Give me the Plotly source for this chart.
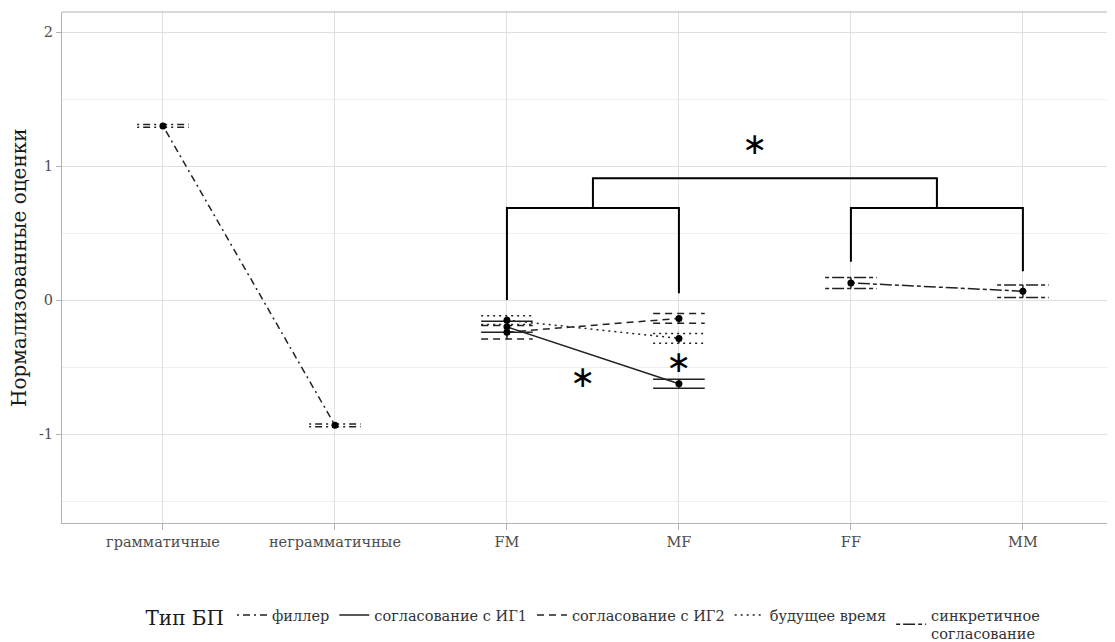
import plotly.graph_objects as go

# ---------------- data ----------------
categories = ["грамматичные", "неграмматичные", "FM", "MF", "FF", "MM"]

series_names = ["филлер", "согласование с ИГ1", "согласование с ИГ2",
                "будущее время", "синкретичное<br>согласование"]
series_x = [["грамматичные", "неграмматичные"], ["FM", "MF"], ["FM", "MF"],
            ["FM", "MF"], ["FF", "MM"]]
series_y = [[1.30, -0.935], [-0.20, -0.625], [-0.24, -0.137],
            [-0.15, -0.286], [0.128, 0.066]]
series_err = [[0.01, 0.01], [0.041, 0.034], [0.05, 0.037],
              [0.032, 0.037], [0.041, 0.046]]

# significance brackets: (left category, right category, left leg bottom, right leg bottom)
bracket_pairs = [("FM", "MF", 0.0, 0.05), ("FF", "MM", 0.285, 0.215)]
bracket_level = 0.687
top_bracket_level = 0.91
star_x = [3.44, 2.44, 3.0]
star_y = [1.17, -0.567, -0.455]

y_ticks = [-1, 0, 1, 2]
y_tick_labels = ["-1", "0", "1", "2"]

# ---------------- styling ----------------
dashes = ["2px,4px,7px,4px", "solid", "7px,5px", "2px,4px", "4px,3px,12px,3px"]
cap_half = 0.15
FONT = "DejaVu Serif"
pos = {c: i for i, c in enumerate(categories)}

fig = go.Figure()

# brackets
bx, by = [], []
mids = []
for a, b, la, lb in bracket_pairs:
    xa, xb = pos[a], pos[b]
    bx += [xa, xa, xb, xb, None]
    by += [la, bracket_level, bracket_level, lb, None]
    mids.append((xa + xb) / 2)
bx += [mids[0], mids[0], mids[1], mids[1], None]
by += [bracket_level, top_bracket_level, top_bracket_level, bracket_level, None]
fig.add_trace(go.Scatter(x=bx, y=by, mode="lines", line=dict(color="black", width=2),
                         showlegend=False, hoverinfo="skip"))

# error bar caps (drawn in series linetype)
for name, xs, ys, es, d in zip(series_names, series_x, series_y, series_err, dashes):
    cx, cy = [], []
    for xc, yv, e in zip(xs, ys, es):
        xi = pos[xc]
        cx += [xi - cap_half, xi + cap_half, None, xi - cap_half, xi + cap_half, None, xi, xi, None]
        cy += [yv + e, yv + e, None, yv - e, yv - e, None, yv - e, yv + e, None]
    fig.add_trace(go.Scatter(x=cx, y=cy, mode="lines",
                             line=dict(color="#222222", width=1.5, dash=d),
                             showlegend=False, legendgroup=name, hoverinfo="skip"))

# series lines (legend entries)
for name, xs, ys, d in zip(series_names, series_x, series_y, dashes):
    fig.add_trace(go.Scatter(x=[pos[c] for c in xs], y=ys, mode="lines",
                             name=name, legendgroup=name,
                             line=dict(color="#222222", width=1.5, dash=d)))
# points
for name, xs, ys in zip(series_names, series_x, series_y):
    fig.add_trace(go.Scatter(x=[pos[c] for c in xs], y=ys, mode="markers",
                             legendgroup=name, showlegend=False,
                             marker=dict(color="black", size=7)))

# asterisks
for sx, sy in zip(star_x, star_y):
    fig.add_annotation(x=sx, y=sy, text="∗", showarrow=False,
                       font=dict(family="DejaVu Sans", size=30, color="black"))

# y-axis title
fig.add_annotation(xref="paper", yref="paper", x=-0.041, y=0.5, text="Нормализованные оценки",
                   textangle=-90, showarrow=False, xanchor="center", yanchor="middle",
                   font=dict(family=FONT, size=20, color="#1a1a1a"))

# top border of panel
fig.add_shape(type="line", xref="paper", yref="paper", x0=0, x1=1, y0=1, y1=1,
              line=dict(color="#B3B3B3", width=1))

fig.update_layout(
    width=1115, height=642,
    margin=dict(l=54, r=0, t=4, b=127, autoexpand=False),
    plot_bgcolor="white", paper_bgcolor="white",
    font=dict(family=FONT, size=14, color="#4d4d4d"),
    xaxis=dict(range=[-0.587, 5.582], tickmode="array", tickvals=list(range(len(categories))),
               ticktext=categories, showgrid=True, gridcolor="#E0E0E0", gridwidth=1,
               zeroline=False, showline=True, linecolor="#B3B3B3", linewidth=1,
               ticks="outside", ticklen=6, tickcolor="#B3B3B3", automargin=False,
               tickfont=dict(family=FONT, size=14.5, color="#4d4d4d")),
    yaxis=dict(range=[-1.664, 2.15], tickmode="array", tickvals=y_ticks, ticktext=y_tick_labels,
               showgrid=True, gridcolor="#E0E0E0", gridwidth=1,
               minor=dict(dtick=0.5, tick0=0, showgrid=True, gridcolor="#EFEFEF", gridwidth=1, ticks=""),
               zeroline=False, showline=True, linecolor="#B3B3B3", linewidth=1,
               ticks="outside", ticklen=5, tickcolor="#B3B3B3", automargin=False,
               tickfont=dict(family=FONT, size=14.5, color="#4d4d4d")),
    legend=dict(orientation="h", xref="container", yref="container", x=0.526, y=0.0,
                xanchor="center", yanchor="bottom", itemwidth=30, tracegroupgap=0,
                title=dict(text="Тип БП", side="left", font=dict(family=FONT, size=20, color="#1a1a1a")),
                font=dict(family=FONT, size=14.5, color="#333333")),
)

fig.write_html("out.html")
